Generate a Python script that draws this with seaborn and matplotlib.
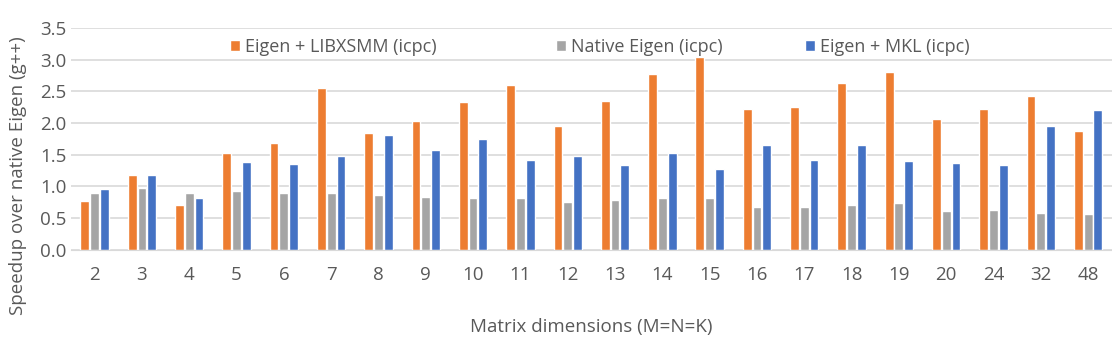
import numpy as np
import pandas as pd
import matplotlib
matplotlib.use('Agg')
import matplotlib.pyplot as plt
import seaborn as sns

dims = ['2', '3', '4', '5', '6', '7', '8', '9', '10', '11', '12', '13', '14',
        '15', '16', '17', '18', '19', '20', '24', '32', '48']
libxsmm = [0.77, 1.18, 0.70, 1.52, 1.68, 2.56, 1.85, 2.03, 2.33, 2.60, 1.95,
           2.35, 2.77, 3.05, 2.22, 2.25, 2.63, 2.80, 2.07, 2.22, 2.42, 1.87]
native = [0.90, 0.97, 0.90, 0.93, 0.89, 0.90, 0.87, 0.83, 0.81, 0.81, 0.75,
          0.78, 0.81, 0.81, 0.67, 0.67, 0.70, 0.73, 0.61, 0.62, 0.57, 0.56]
mkl = [0.95, 1.18, 0.81, 1.38, 1.35, 1.48, 1.81, 1.57, 1.74, 1.41, 1.48,
       1.34, 1.53, 1.27, 1.66, 1.42, 1.65, 1.40, 1.37, 1.34, 1.95, 2.21]
series = ['Eigen + LIBXSMM (icpc)', 'Native Eigen (icpc)', 'Eigen + MKL (icpc)']
colors = ['#ED7D31', '#A5A5A5', '#4472C4']

df = pd.DataFrame({
    'dim': dims * 3,
    'speedup': libxsmm + native + mkl,
    'series': [series[0]] * len(dims) + [series[1]] * len(dims) + [series[2]] * len(dims),
})

sns.set_style('white')
plt.rcParams['font.family'] = ['Open Sans', 'DejaVu Sans']
txt = '#595959'

fig = plt.figure(figsize=(11.12, 3.56), dpi=100)
ax = fig.add_axes([0.0638, 0.299, 0.936, 0.622])

sns.barplot(data=df, x='dim', y='speedup', hue='series', order=dims,
            hue_order=series, palette=colors, width=0.62, gap=0.1,
            saturation=1, ax=ax, legend=True)

ax.set_ylim(0, 3.5)
ax.set_yticks(np.arange(0, 3.51, 0.5))
ax.set_yticklabels([f'{v:.1f}' for v in np.arange(0, 3.51, 0.5)])
ax.set_xlim(-0.5, len(dims) - 0.5)
ax.yaxis.grid(True, color='#D9D9D9', linewidth=1.2)
ax.set_axisbelow(True)
for s in ['top', 'right', 'left']:
    ax.spines[s].set_visible(False)
ax.spines['bottom'].set_color('#D9D9D9')
ax.tick_params(axis='both', colors=txt, labelsize=13.5, length=0)
ax.tick_params(axis='x', pad=12)
ax.tick_params(axis='y', pad=3)

ax.set_xlabel('Matrix dimensions (M=N=K)', color=txt, fontsize=13.5, labelpad=24)
ax.set_ylabel('Speedup over native Eigen (g++)', color=txt, fontsize=13.5)
ax.yaxis.set_label_coords(-0.042, 0.335)

# Excel-style legend: each entry sits in its own slot along the top
handles, labels = ax.get_legend_handles_labels()
ax.legend_.remove()
slots = [230, 556, 805]
for h, lab, px in zip(handles, labels, slots):
    fig.legend([h], [lab], loc='center left', bbox_to_anchor=(px / 1112, 0.869),
               frameon=False, fontsize=13, labelcolor=txt, handlelength=0.55,
               handleheight=0.55, handletextpad=0.3, borderpad=0, borderaxespad=0)

fig.savefig('out.png', dpi=100)
